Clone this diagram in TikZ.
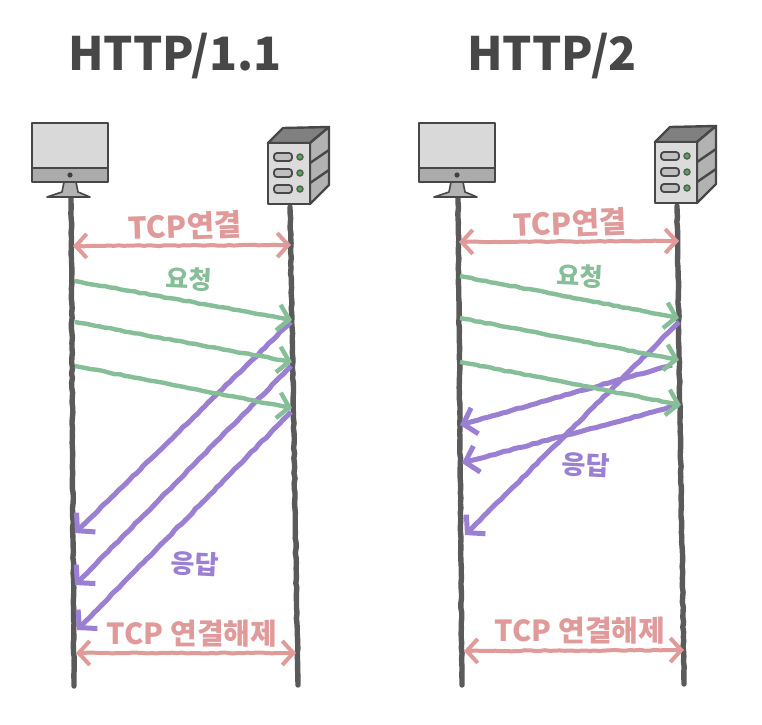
\documentclass[tikz,border=0pt]{standalone}
\usepackage{fontspec}
\setmainfont{Noto Sans CJK KR}
\usetikzlibrary{arrows.meta,decorations.pathmorphing}
\definecolor{wire}{HTML}{5A5A5A}
\definecolor{conn}{HTML}{E09A9A}
\definecolor{req}{HTML}{86BE98}
\definecolor{res}{HTML}{9A7FD2}
\tikzset{
  rough/.style={decorate,decoration={random steps,segment length=5pt,amplitude=.5pt,pre length=6pt,post length=12pt}},
  life/.style={rough,draw=wire,line width=5.4pt,line cap=round},
  conline/.style={rough,draw=conn,line width=4pt,{Straight Barb[length=11pt,width=24pt]}-{Straight Barb[length=11pt,width=24pt]}},
  reqline/.style={rough,draw=req,line width=4.4pt,-{Straight Barb[length=11pt,width=26pt]}},
  resline/.style={rough,draw=res,line width=5pt,-{Straight Barb[length=12pt,width=27pt]}},
  title/.style={font=\bfseries\fontsize{46}{46}\selectfont,text=black!72},
  lab/.style={font=\bfseries\fontsize{#1}{#1}\selectfont},
  hw/.style={draw=black!72,line width=2.4pt,line join=round},
  computer/.pic={
    \draw[hw,fill=black!15] (-39,-74) rectangle (37,-29);
    \draw[hw,fill=black!33] (-39,-29) rectangle (37,-15);
    \fill[black!75] (-1,-22) circle (2.6);
    \draw[hw,fill=black!30,line width=1.6pt] (-7,-15) -- (5,-15) -- (7,-5) -- (19,0) -- (-24,0) -- (-9,-5) -- cycle;
  },
  server/.pic={
    \draw[hw,fill=black!50] (-22,-64) -- (-7,-79) -- (39,-80) -- (20,-64) -- cycle;
    \draw[hw,fill=black!30] (20,-64) -- (39,-80) -- (39,-22) -- (20,-3) -- cycle;
    \draw[hw] (20,-44) -- (39,-57) (20,-24) -- (39,-37);
    \draw[hw,fill=black!14] (-22,-64) rectangle (20,-3);
    \foreach \yy in {-50,-34,-18} {
      \draw[hw,fill=black!25,rounded corners=3pt,line width=1.8pt] (-16,\yy-4) rectangle (2,\yy+4);
      \draw[black!65,fill=green!55!black!70,line width=1.4pt] (10,\yy) circle (3);
    }
  }
}
\begin{document}
\begin{tikzpicture}[x=1pt,y=-1pt]
  \pgfmathsetseed{7}
  \useasboundingbox (0,0) rectangle (762,724);
  \fill[white] (0,0) rectangle (762,724);

  % HTTP/1.1
  \node[title] (t1) at (175,56) {HTTP/1.1};
  \coordinate (c1) at (71,197);
  \coordinate (c1e) at (74,686);
  \coordinate (s1) at (290,207);
  \coordinate (s1e) at (298,685);
  \draw[life] (c1) -- (c1e);
  \draw[life] (s1) -- (s1e);
  \pic at (c1) {computer};
  \pic at (s1) {server};

  \coordinate (a1) at (73,246);  \coordinate (b1) at (291,245);
  \coordinate (a2) at (75,281);  \coordinate (b2) at (292,320);
  \coordinate (a3) at (75,322);  \coordinate (b3) at (292,362);
  \coordinate (a4) at (75,366);  \coordinate (b4) at (292,408);
  \coordinate (d1) at (291,322); \coordinate (e1) at (75,533);
  \coordinate (d2) at (291,366); \coordinate (e2) at (75,585);
  \coordinate (d3) at (291,412); \coordinate (e3) at (77,630);
  \coordinate (a5) at (76,653);  \coordinate (b5) at (296,653);
  \draw[conline] (a1) -- (b1);
  \foreach \i/\j in {d1/e1,d2/e2,d3/e3} \draw[resline] (\i) -- (\j);
  \foreach \i/\j in {a2/b2,a3/b3,a4/b4} \draw[reqline] (\i) -- (\j);
  \draw[conline] (a5) -- (b5);

  \node[lab=30,text=conn,rotate=2] (l1) at (185,226) {TCP연결};
  \node[lab=25,text=req,rotate=-3] (l2) at (189,279) {요청};
  \node[lab=26,text=res,rotate=-3] (l3) at (195,564) {응답};
  \node[lab=29,text=conn] (l4) at (192,634) {TCP 연결해제};

  % HTTP/2
  \node[title] (t2) at (552,56) {HTTP/2};
  \coordinate (c2) at (458,197);
  \coordinate (c2e) at (462,685);
  \coordinate (s2) at (677,206);
  \coordinate (s2e) at (684,684);
  \draw[life] (c2) -- (c2e);
  \draw[life] (s2) -- (s2e);
  \pic at (c2) {computer};
  \pic at (s2) {server};

  \coordinate (f1) at (459,242); \coordinate (g1) at (679,241);
  \coordinate (f2) at (460,276); \coordinate (g2) at (679,318);
  \coordinate (f3) at (460,318); \coordinate (g3) at (679,360);
  \coordinate (f4) at (460,362); \coordinate (g4) at (681,405);
  \coordinate (h1) at (679,322); \coordinate (k1) at (465,535);
  \coordinate (h2) at (672,365); \coordinate (k2) at (460,425);
  \coordinate (h3) at (679,405); \coordinate (k3) at (462,463);
  \coordinate (f5) at (464,651); \coordinate (g5) at (684,650);
  \draw[conline] (f1) -- (g1);
  \foreach \i/\j in {h1/k1,h2/k2,h3/k3} \draw[resline] (\i) -- (\j);
  \foreach \i/\j in {f2/g2,f3/g3,f4/g4} \draw[reqline] (\i) -- (\j);
  \draw[conline] (f5) -- (g5);

  \node[lab=30,text=conn,rotate=2] (l5) at (570,223) {TCP연결};
  \node[lab=25,text=req,rotate=-3] (l6) at (580,276) {요청};
  \node[lab=26,text=res,rotate=-3] (l7) at (586,465) {응답};
  \node[lab=29,text=conn] (l8) at (580,631) {TCP 연결해제};
\end{tikzpicture}
\end{document}
